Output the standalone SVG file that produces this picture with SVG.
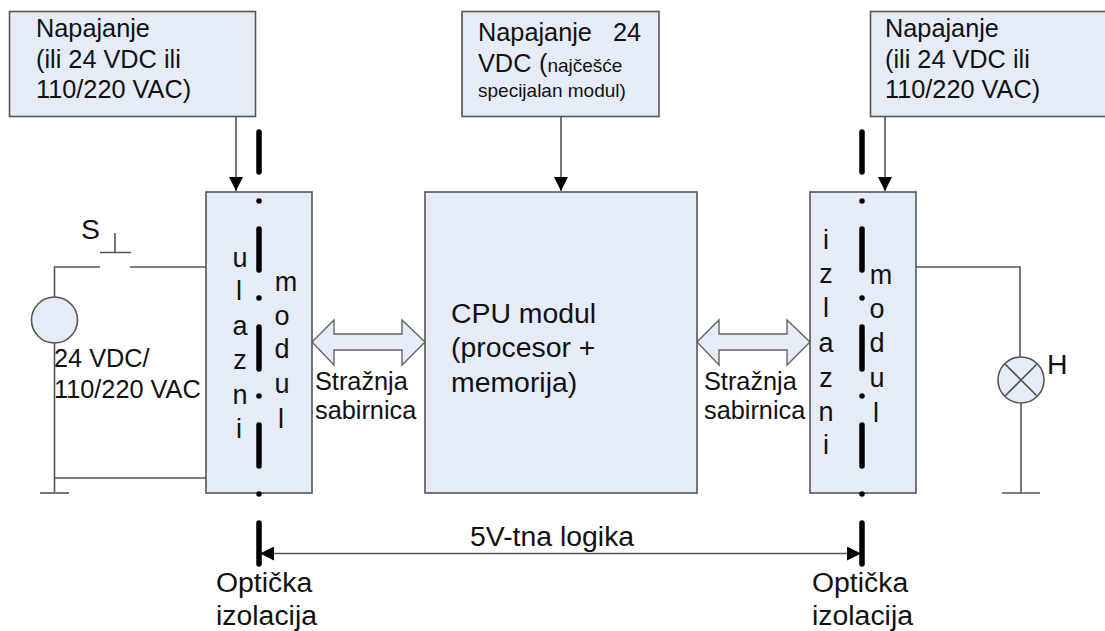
<svg xmlns="http://www.w3.org/2000/svg" width="1105" height="631" viewBox="0 0 1105 631">
<style>
text{font-family:"Liberation Sans",Arial,sans-serif;font-size:25.3px;fill:#111}
.s{font-size:19px}
.l{font-size:28.4px}
.m{font-size:27px}
.box{fill:#e6ecf7;stroke:#555;stroke-width:1.6}
.w{fill:none;stroke:#555;stroke-width:1.6}
.iso2{fill:none;stroke:#000;stroke-width:5.5;stroke-linecap:round}
.ar{fill:#e6ecf7;stroke:#666;stroke-width:1.4}
</style>
<defs>
<marker id="a" markerUnits="userSpaceOnUse" markerWidth="16" markerHeight="14" refX="14" refY="7" orient="auto-start-reverse"><path d="M0 0L14 7L0 14z" fill="#000"/></marker>
</defs>
<rect width="1105" height="631" fill="#fff"/>
<g id="connectors">
<path class="w" d="M236 117V191" marker-end="url(#a)"/>
<path class="w" d="M561 117V191" marker-end="url(#a)"/>
<path class="w" d="M885 117V191" marker-end="url(#a)"/>
<path class="w" d="M260 553.500H861" marker-start="url(#a)" marker-end="url(#a)"/>
<path class="w" d="M206 267H130M100 267H54.500V298M54.500 342V492M54.500 478H206"/>
<path class="w" d="M100 252.500H131M115 233V252.500"/>
<path class="w" d="M40 493H69"/>
<path class="w" d="M916 267H1020V358M1021 403V493M1002 493H1040"/>
<path class="ar" d="M312 342L334 320V334H402V320L425 342L402 365V350H334V365z"/>
<path class="ar" d="M697 342L719 320V334H787V320L810 342L787 365V350H719V365z"/>
</g>
<g id="psu-left"><rect class="box" x="9.500" y="11.500" width="246" height="105"/><text x="36" y="37">Napajanje</text><text x="36" y="68">(ili 24 VDC ili</text><text x="36" y="98">110/220 VAC)</text></g>
<g id="psu-mid"><rect class="box" x="462" y="11.500" width="197" height="105"/><text x="478" y="41">Napajanje</text><text x="613" y="41">24</text><text x="478" y="72">VDC</text><text x="539" y="72">(<tspan class="s">najčešće</tspan></text><text x="478" y="97" class="s">specijalan modul)</text></g>
<g id="psu-right"><rect class="box" x="870.500" y="11.500" width="240" height="105"/><text x="885" y="37">Napajanje</text><text x="885" y="68">(ili 24 VDC ili</text><text x="885" y="98">110/220 VAC)</text></g>
<g id="input-module"><rect class="box" x="206" y="192" width="106" height="301"/>
<g text-anchor="middle" class="m"><text class="m" x="240" y="267">u</text><text class="m" x="239" y="300">l</text><text class="m" x="240" y="335">a</text><text class="m" x="240" y="369">z</text><text class="m" x="240" y="404">n</text><text class="m" x="239" y="438">i</text><text class="m" x="286" y="291">m</text><text class="m" x="282" y="325">o</text><text class="m" x="282" y="358">d</text><text class="m" x="282" y="393">u</text><text class="m" x="281" y="428">l</text></g></g>
<g id="cpu"><rect class="box" x="425" y="192" width="272" height="301"/><text class="l" x="451" y="323">CPU modul</text><text class="l" x="451" y="357">(procesor +</text><text class="l" x="451" y="392">memorija)</text></g>
<g id="output-module"><rect class="box" x="810" y="192" width="106" height="301"/>
<g text-anchor="middle"><text class="m" x="826" y="249">i</text><text class="m" x="826" y="283">z</text><text class="m" x="826" y="317">l</text><text class="m" x="826" y="352">a</text><text class="m" x="826" y="387">z</text><text class="m" x="826" y="421">n</text><text class="m" x="826" y="454">i</text><text class="m" x="881" y="284">m</text><text class="m" x="877" y="318">o</text><text class="m" x="877" y="352">d</text><text class="m" x="877" y="387">u</text><text class="m" x="876" y="422">l</text></g></g>
<g id="iso-left"><path class="iso2" d="M259 132V172M259 201V201.100M259 229V270M259 298V298.100M259 327V369M259 396V396.100M259 425V466M259 494V494.100M259 523V564"/></g>
<g id="iso-right"><path class="iso2" d="M862 132V172M862 201V201.100M862 229V270M862 298V298.100M862 327V369M862 396V396.100M862 425V466M862 494V494.100M862 523V564"/></g>
<g id="source"><circle class="box" cx="54.500" cy="320" r="23"/><text x="54" y="367">24 VDC/</text><text x="54" y="398">110/220 VAC</text></g>
<g id="switch"><text class="l" x="81" y="239">S</text></g>
<g id="lamp"><circle class="box" cx="1021" cy="380" r="23"/><path class="w" d="M1005 364L1037 396M1037 364L1005 396"/><text class="l" x="1047" y="374">H</text></g>
<g id="labels"><text x="315" y="390">Stražnja</text><text x="315" y="419">sabirnica</text><text x="704" y="390">Stražnja</text><text x="704" y="419">sabirnica</text><text class="l" x="470" y="546">5V-tna logika</text><text class="l" x="216" y="592">Optička</text><text class="l" x="216" y="625">izolacija</text><text class="l" x="812" y="592">Optička</text><text class="l" x="812" y="625">izolacija</text></g>
</svg>
